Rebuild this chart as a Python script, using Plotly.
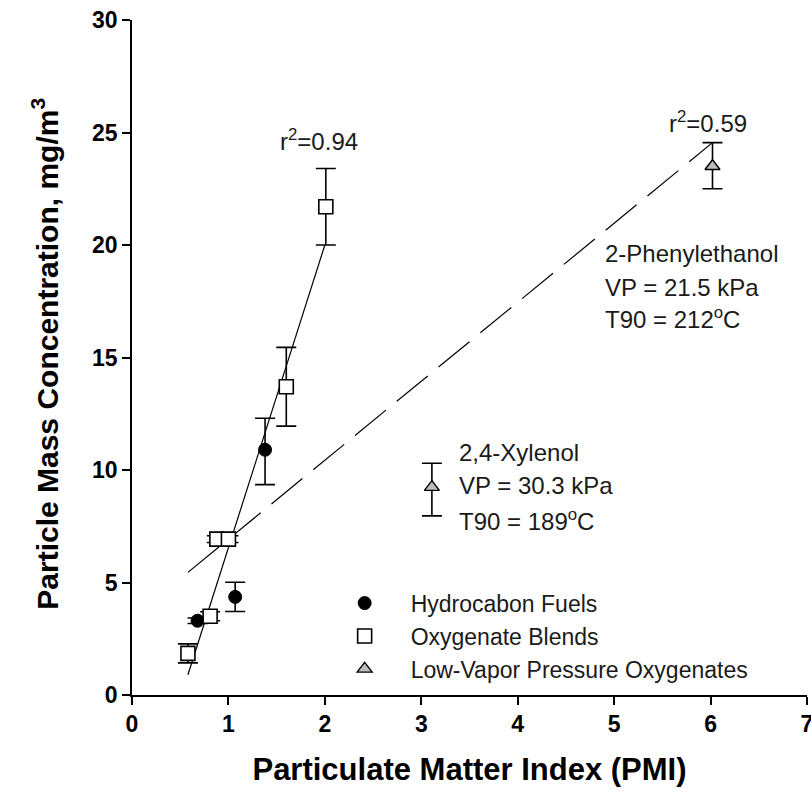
import plotly.graph_objects as go

# Hydrocarbon fuels
hc_x = [0.68, 1.07, 1.38]
hc_y = [3.30, 4.36, 10.9]
hc_err_plus = [0.12, 0.65, 1.4]
hc_err_minus = [0.12, 0.65, 1.55]

# Oxygenate blends
ox_x = [0.58, 0.81, 0.88, 1.00, 1.60, 2.01]
ox_y = [1.85, 3.50, 6.93, 6.93, 13.7, 21.7]
ox_err_plus = [0.42, 0.2, 0.15, 0.15, 1.75, 1.7]
ox_err_minus = [0.42, 0.2, 0.15, 0.15, 1.75, 1.7]

# Low-vapor pressure oxygenates
lv_x = [3.11, 6.02]
lv_y = [9.24, 23.5]
lv_err_plus = [1.06, 1.05]
lv_err_minus = [1.28, 1.0]

# Regression lines (endpoints)
fit1_x = [0.58, 2.0]
fit1_y = [0.9, 20.0]
fit2_x = [0.58, 6.02]
fit2_y = [5.45, 24.55]

x_ticks = [0, 1, 2, 3, 4, 5, 6, 7]
y_ticks = [0, 5, 10, 15, 20, 25, 30]

FONT = "Liberation Sans, Arial, sans-serif"
TXT = "#1a1a1a"
BODY = 24

fig = go.Figure()

fig.add_trace(go.Scatter(x=fit1_x, y=fit1_y, mode="lines",
                         line=dict(color="black", width=1.2), showlegend=False, hoverinfo="skip"))
fig.add_trace(go.Scatter(x=fit2_x, y=fit2_y, mode="lines",
                         line=dict(color="black", width=1.2, dash="40px,14px"), showlegend=False, hoverinfo="skip"))

err_style = dict(type="data", color="black", thickness=1.6, width=10, symmetric=False)

fig.add_trace(go.Scatter(
    x=hc_x, y=hc_y, mode="markers", name="Hydrocabon Fuels",
    marker=dict(symbol="circle", size=13, color="black", line=dict(color="black", width=1)),
    error_y=dict(array=hc_err_plus, arrayminus=hc_err_minus, **err_style)))
fig.add_trace(go.Scatter(
    x=ox_x, y=ox_y, mode="markers", name="Oxygenate Blends",
    marker=dict(symbol="square", size=14, color="white", line=dict(color="black", width=1.6)),
    error_y=dict(array=ox_err_plus, arrayminus=ox_err_minus, **err_style)))
fig.add_trace(go.Scatter(
    x=lv_x, y=lv_y, mode="markers", name="Low-Vapor Pressure Oxygenates",
    marker=dict(symbol="triangle-up", size=13, color="#bdbdbd", line=dict(color="black", width=1.4)),
    error_y=dict(array=lv_err_plus, arrayminus=lv_err_minus, **err_style)))

annos = []
def txt(x, y, s, anchor="left", size=BODY):
    annos.append(dict(x=x, y=y, xref="x", yref="y", text=s, showarrow=False,
                      xanchor=anchor, yanchor="middle",
                      font=dict(family=FONT, size=size, color=TXT)))

txt(1.94, 24.67, "r<sup>2</sup>=0.94", "center")
txt(5.97, 25.47, "r<sup>2</sup>=0.59", "center")
txt(4.88, 19.64, "2-Phenylethanol")
txt(4.88, 18.13, "VP = 21.5 kPa")
txt(4.88, 16.76, "T90 = 212<sup>o</sup>C")
txt(3.37, 10.76, "2,4-Xylenol")
txt(3.37, 9.29, "VP = 30.3 kPa")
txt(3.37, 7.78, "T90 = 189<sup>o</sup>C")

# y-axis title as a rotated annotation
annos.append(dict(x=-0.128, y=0.505, xref="paper", yref="paper",
                  text="<b>Particle Mass Concentration, mg/m<sup>3</sup></b>",
                  textangle=-90, showarrow=False, xanchor="center", yanchor="middle",
                  font=dict(family=FONT, size=30, color="black")))

fig.update_layout(
    width=811, height=807,
    margin=dict(l=132, r=4, t=20, b=112),
    paper_bgcolor="white", plot_bgcolor="white",
    font=dict(family=FONT, color=TXT),
    annotations=annos,
    legend=dict(x=0.2765, y=0.168, xanchor="left", yanchor="top",
                bgcolor="rgba(0,0,0,0)", font=dict(family=FONT, size=23, color=TXT),
                tracegroupgap=0, itemwidth=82),
    xaxis=dict(range=[0, 7], tickvals=x_ticks, showgrid=False, zeroline=False,
               showline=True, linecolor="black", linewidth=1.5, automargin=False,
               ticks="outside", ticklen=8, tickwidth=1.5, tickcolor="black",
               ticklabeloverflow="allow",
               tickfont=dict(family=FONT, size=23, color="black", weight="bold"),
               title=dict(text="<b>Particulate Matter Index (PMI)</b>",
                          font=dict(family=FONT, size=31, color="black"), standoff=22)),
    yaxis=dict(range=[0, 30], tickvals=y_ticks, showgrid=False, zeroline=False,
               showline=True, linecolor="black", linewidth=1.5, automargin=False,
               ticks="outside", ticklen=8, tickwidth=1.5, tickcolor="black",
               tickfont=dict(family=FONT, size=23, color="black", weight="bold")),
)

fig.write_html("out.html")
